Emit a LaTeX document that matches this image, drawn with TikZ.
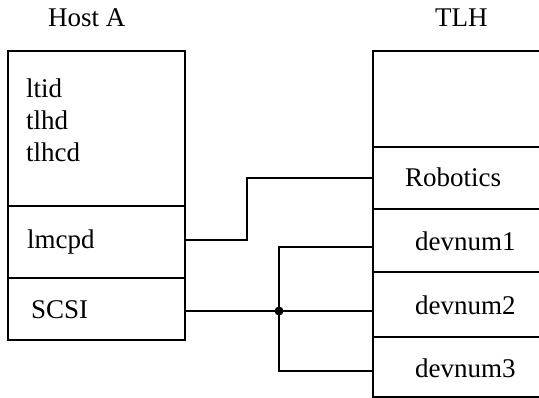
\documentclass[tikz,border=0pt]{standalone}
\usepackage{fontspec}
\setmainfont{Liberation Serif}
\begin{document}
\begin{tikzpicture}[x=1pt,y=-1pt,
  cell/.style={draw,line width=1.6pt,inner sep=0pt,outer sep=0pt,anchor=north west},
  txt/.style={inner sep=0pt,anchor=base west,font=\fontsize{27}{32}\selectfont},
  wire/.style={line width=1.8pt}]
\useasboundingbox (0,0) rectangle (539,398);
\clip (0,0) rectangle (539,398);
% Host A
\node[txt] (hostA) at (48,27) {Host A};
\node[cell,minimum width=177pt,minimum height=155pt] (htop) at (8,51) {};
\node[cell,minimum width=177pt,minimum height=72pt] (hlmcpd) at (8,206) {};
\node[cell,minimum width=177pt,minimum height=62pt] (hscsi) at (8,278) {};
\node[txt] (ltid) at (26,98) {ltid};
\node[txt] (tlhd) at (26,130) {tlhd};
\node[txt] (tlhcd) at (26,162) {tlhcd};
\node[txt] (lmcpd) at (27,249) {lmcpd};
\node[txt] (scsi) at (31,319) {SCSI};
% TLH
\node[txt] (tlh) at (435,27) {TLH};
\node[cell,minimum width=200pt,minimum height=96pt] (ttop) at (373,51) {};
\node[cell,minimum width=200pt,minimum height=62pt] (trob) at (373,147) {};
\node[cell,minimum width=200pt,minimum height=63pt] (tdev1) at (373,209) {};
\node[cell,minimum width=200pt,minimum height=65pt] (tdev2) at (373,272) {};
\node[cell,minimum width=200pt,minimum height=60pt] (tdev3) at (373,337) {};
\node[txt] (robotics) at (405,187) {Robotics};
\node[txt] (devnum1) at (415,251) {devnum1};
\node[txt] (devnum2) at (415,315) {devnum2};
\node[txt] (devnum3) at (415,378) {devnum3};
% connectors
\coordinate (j) at (279,311);
\draw[wire] ([yshift=2pt]hlmcpd.east) -| (247,178) -- (trob.west);
\draw[wire] ([yshift=-2pt]hscsi.east) -- (j) -- ([yshift=-6.5pt]tdev2.west);
\draw[wire] ([yshift=-6.5pt]tdev1.west) -| (j) |- ([yshift=-4pt]tdev3.west);
\fill (j) circle (4.5pt);
\end{tikzpicture}
\end{document}
